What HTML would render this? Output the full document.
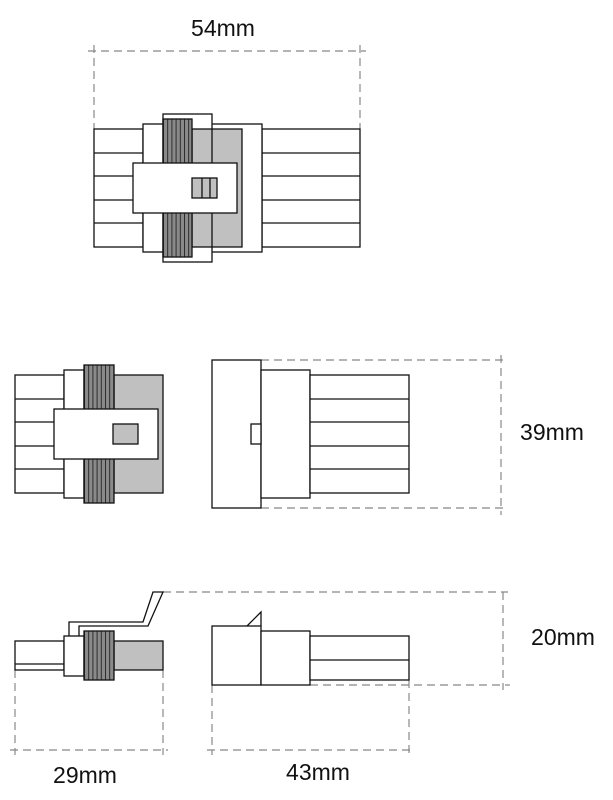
<!DOCTYPE html>
<html><head><meta charset="utf-8"><style>body{margin:0;background:#fff}svg{display:block}</style></head><body>
<svg width="613" height="800" viewBox="0 0 613 800" xmlns="http://www.w3.org/2000/svg">
<defs>
<pattern id="rib" x="163" y="0" width="4.2" height="10" patternUnits="userSpaceOnUse"><rect width="4.2" height="10" fill="#8a8a8a"/><line x1="0.5" y1="0" x2="0.5" y2="10" stroke="#222" stroke-width="0.9"/></pattern>
<pattern id="rib2" x="84" y="0" width="4.2" height="10" patternUnits="userSpaceOnUse"><rect width="4.2" height="10" fill="#8a8a8a"/><line x1="0.5" y1="0" x2="0.5" y2="10" stroke="#222" stroke-width="0.9"/></pattern>
</defs>
<g font-family="Liberation Sans, sans-serif" font-size="23" fill="#111">
<text x="223" y="36" text-anchor="middle">54mm</text>
<text x="552" y="440" text-anchor="middle">39mm</text>
<text x="563" y="645" text-anchor="middle">20mm</text>
<text x="85" y="783" text-anchor="middle">29mm</text>
<text x="318" y="780" text-anchor="middle">43mm</text>
</g>
<g stroke="#888" stroke-width="1.2" stroke-dasharray="8,5" fill="none">
<line x1="88" y1="51" x2="366" y2="51"/><line x1="94" y1="45" x2="94" y2="129"/><line x1="360" y1="45" x2="360" y2="129"/>
<line x1="261" y1="360" x2="508" y2="360"/><line x1="261" y1="508" x2="508" y2="508"/><line x1="501" y1="355" x2="501" y2="515"/>
<line x1="163" y1="592" x2="508" y2="592"/><line x1="310" y1="685" x2="510" y2="685"/><line x1="503" y1="592" x2="503" y2="690"/>
<line x1="15" y1="670" x2="15" y2="755"/><line x1="163" y1="670" x2="163" y2="755"/><line x1="10" y1="750" x2="168" y2="750"/>
<line x1="212" y1="685" x2="212" y2="755"/><line x1="409" y1="680" x2="409" y2="755"/><line x1="207" y1="750" x2="415" y2="750"/>
</g>
<g stroke="#111" stroke-width="1.3" fill="#fff">
<!-- top view -->
<rect x="94" y="129" width="49" height="118"/>
<line x1="94" y1="153" x2="143" y2="153"/><line x1="94" y1="176" x2="143" y2="176"/><line x1="94" y1="200" x2="143" y2="200"/><line x1="94" y1="223" x2="143" y2="223"/>
<rect x="262" y="129" width="98" height="118"/>
<line x1="262" y1="153" x2="360" y2="153"/><line x1="262" y1="176" x2="360" y2="176"/><line x1="262" y1="200" x2="360" y2="200"/><line x1="262" y1="223" x2="360" y2="223"/>
<rect x="143" y="124" width="119" height="128"/>
<rect x="163" y="114" width="49" height="148"/>
<rect x="192" y="129" width="50" height="118" fill="#c0c0c0"/>
<line x1="212" y1="129" x2="212" y2="247"/>
<rect x="163" y="119" width="29" height="138" fill="url(#rib)"/>
<rect x="133" y="163" width="104" height="50"/>
<rect x="192" y="178" width="25" height="20" fill="#c0c0c0"/>
<line x1="202" y1="178" x2="202" y2="198"/><line x1="210" y1="178" x2="210" y2="198"/>
<!-- middle left -->
<rect x="15" y="375" width="49" height="118"/>
<line x1="15" y1="399" x2="64" y2="399"/><line x1="15" y1="422" x2="64" y2="422"/><line x1="15" y1="446" x2="64" y2="446"/><line x1="15" y1="469" x2="64" y2="469"/>
<rect x="64" y="370" width="20" height="128"/>
<rect x="114" y="375" width="49" height="118" fill="#c0c0c0"/>
<rect x="84" y="365" width="30" height="138" fill="url(#rib2)"/>
<rect x="54" y="409" width="104" height="50"/>
<rect x="113" y="424" width="25" height="20" fill="#c0c0c0"/>
<!-- middle right -->
<rect x="212" y="360" width="49" height="148"/>
<rect x="261" y="370" width="49" height="128"/>
<rect x="310" y="375" width="99" height="118"/>
<line x1="310" y1="399" x2="409" y2="399"/><line x1="310" y1="422" x2="409" y2="422"/><line x1="310" y1="446" x2="409" y2="446"/><line x1="310" y1="469" x2="409" y2="469"/>
<rect x="251" y="424" width="10" height="20"/>
<!-- bottom left -->
<rect x="15" y="641" width="49" height="29"/>
<line x1="15" y1="664" x2="64" y2="664"/>
<path d="M69 636 V622 H143 L153 592 H163 L148 626 H79 V636" />
<rect x="64" y="636" width="20" height="40"/>
<rect x="114" y="641" width="49" height="29" fill="#c0c0c0"/>
<rect x="84" y="631" width="30" height="49" fill="url(#rib2)"/>
<!-- bottom right -->
<rect x="212" y="626" width="49" height="59"/>
<path d="M247 626 L261 612 V626" fill="none"/>
<rect x="261" y="631" width="49" height="54"/>
<rect x="310" y="636" width="99" height="44"/>
<line x1="310" y1="660" x2="409" y2="660"/>
</g>
</svg>
</body></html>
